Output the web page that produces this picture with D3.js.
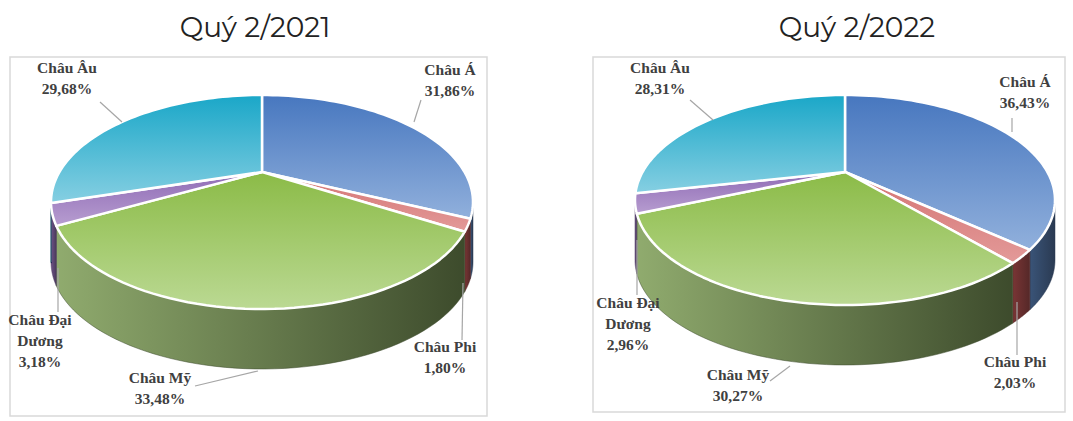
<!DOCTYPE html>
<html><head><meta charset="utf-8">
<script src="https://cdn.jsdelivr.net/npm/d3@7"></script>
<style>body{margin:0;background:#fff}</style></head>
<body><svg id="c" width="1073" height="421"></svg>
<script>
const regions = ['Châu Á', 'Châu Phi', 'Châu Mỹ', 'Châu Đại Dương', 'Châu Âu']
const labelLines = [['Châu Á'], ['Châu Phi'], ['Châu Mỹ'], ['Châu Đại', 'Dương'], ['Châu Âu']]
const titles = ['Quý 2/2021', 'Quý 2/2022']
const values2021 = [31.86, 1.80, 33.48, 3.18, 29.68]
const values2022 = [36.43, 2.03, 30.27, 2.96, 28.31]
const pctText2021 = ['31,86%', '1,80%', '33,48%', '3,18%', '29,68%']
const pctText2022 = ['36,43%', '2,03%', '30,27%', '2,96%', '28,31%']

const topColors = [['#4777bf', '#91b0dc'], ['#d47372', '#e39a99'], ['#8bbb47', '#bbd993'], ['#8f6bb5', '#b79dd0'], ['#1aa7c8', '#86cfe2']]
const sideColors = [['#3a5478', '#2a3a52'], ['#7a3535', '#552828'], ['#90ab6e', '#3d4b2c'], ['#6d5287', '#4b3a5c'], ['#1a7f97', '#135c6e']]

const charts = [
  { title: titles[0], values: values2021, pct: pctText2021, box: [10, 57, 477, 359], cx: 262, cy: 172, rx: 211, top: 95, bottom: 309, depth: 60, tx: 255,
    labels: [[450, 75, 414, 122, 421, 100], [445, 352, 463, 283, 462, 340], [160, 383, 258, 371, 195, 386], [40, 325, 58, 268, 58, 312], [67, 73, 122, 122, 100, 102]] },
  { title: titles[1], values: values2022, pct: pctText2022, box: [593, 57, 472, 355], cx: 845, cy: 172, rx: 210, top: 95, bottom: 305, depth: 60, tx: 857,
    labels: [[1025, 87, 1012, 132, 1012, 118], [1015, 367, 1017, 302, 1017, 355], [738, 380, 790, 366, 770, 381], [628, 308, 637, 240, 637, 295], [660, 73, 713, 120, 690, 100]] },
]

const svg = d3.select('#c')
const defs = svg.append('defs')
topColors.forEach((c, i) => {
  const g = defs.append('linearGradient').attr('id', 'top' + i).attr('x1', 0).attr('y1', 0).attr('x2', 0).attr('y2', 1)
  g.append('stop').attr('offset', 0).attr('stop-color', c[0])
  g.append('stop').attr('offset', 1).attr('stop-color', c[1])
})
sideColors.forEach((c, i) => {
  const g = defs.append('linearGradient').attr('id', 'side' + i).attr('x1', 0).attr('y1', 0).attr('x2', 1).attr('y2', 0)
  g.append('stop').attr('offset', 0).attr('stop-color', c[0])
  g.append('stop').attr('offset', 1).attr('stop-color', c[1])
})

const pie = d3.pie().sort(null).value((d) => d)

charts.forEach((ch) => {
  const g = svg.append('g')
  g.append('rect').attr('x', ch.box[0]).attr('y', ch.box[1]).attr('width', ch.box[2]).attr('height', ch.box[3])
    .attr('fill', '#fff').attr('stroke', '#d9d9d9').attr('stroke-width', 1.5)
  g.append('text').attr('x', ch.tx).attr('y', 37).attr('text-anchor', 'middle')
    .attr('font-family', 'Montserrat, "Open Sans", sans-serif').attr('font-size', 28).attr('fill', '#222').text(ch.title)

  // perspective projection of a tilted circle
  const b = ch.cy - ch.top, f = ch.bottom - ch.cy
  const k = (f - b) / (f + b), T = b * (1 + k), S = ch.rx * Math.sqrt(1 - k * k)
  const pt = (a, dy = 0) => {
    const w = 1 + k * Math.cos(a)
    return [ch.cx + S * Math.sin(a) / w, ch.cy - T * Math.cos(a) / w + dy]
  }
  const arcPts = (a0, a1, dy) => d3.range(0, 61).map((j) => pt(a0 + (a1 - a0) * j / 60, dy))
  const arcs = pie(ch.values)
  const edgeR = Math.acos(-k), edgeL = 2 * Math.PI - edgeR

  arcs.forEach((d, i) => {
    const a0 = Math.max(d.startAngle, edgeR), a1 = Math.min(d.endAngle, edgeL)
    if (a1 <= a0) return
    const upper = arcPts(a0, a1, 0), lower = arcPts(a1, a0, ch.depth)
    g.append('path').attr('d', d3.line()(upper.concat(lower)) + 'Z').attr('fill', `url(#side${i})`)
      .attr('stroke', sideColors[i][1]).attr('stroke-width', 0.5)
  })
  arcs.forEach((d, i) => {
    const pts = [[ch.cx, ch.cy]].concat(arcPts(d.startAngle, d.endAngle, 0))
    g.append('path').attr('d', d3.line()(pts) + 'Z').attr('fill', `url(#top${i})`)
      .attr('stroke', '#fff').attr('stroke-width', 2.5).attr('stroke-linejoin', 'round')
  })
  arcs.forEach((d, i) => {
    const [lx, ly, x1, y1, x2, y2] = ch.labels[i]
    g.append('line').attr('x1', x1).attr('y1', y1).attr('x2', x2).attr('y2', y2).attr('stroke', '#a6a6a6').attr('stroke-width', 1.2)
    const t = g.append('text').attr('text-anchor', 'middle').attr('font-family', '"Liberation Serif", serif')
      .attr('font-weight', 'bold').attr('font-size', 15.5).attr('fill', '#404040')
    labelLines[i].concat([ch.pct[i]]).forEach((s, j) => {
      t.append('tspan').attr('x', lx).attr('y', ly + j * 21).text(s)
    })
  })
})
</script></body></html>
